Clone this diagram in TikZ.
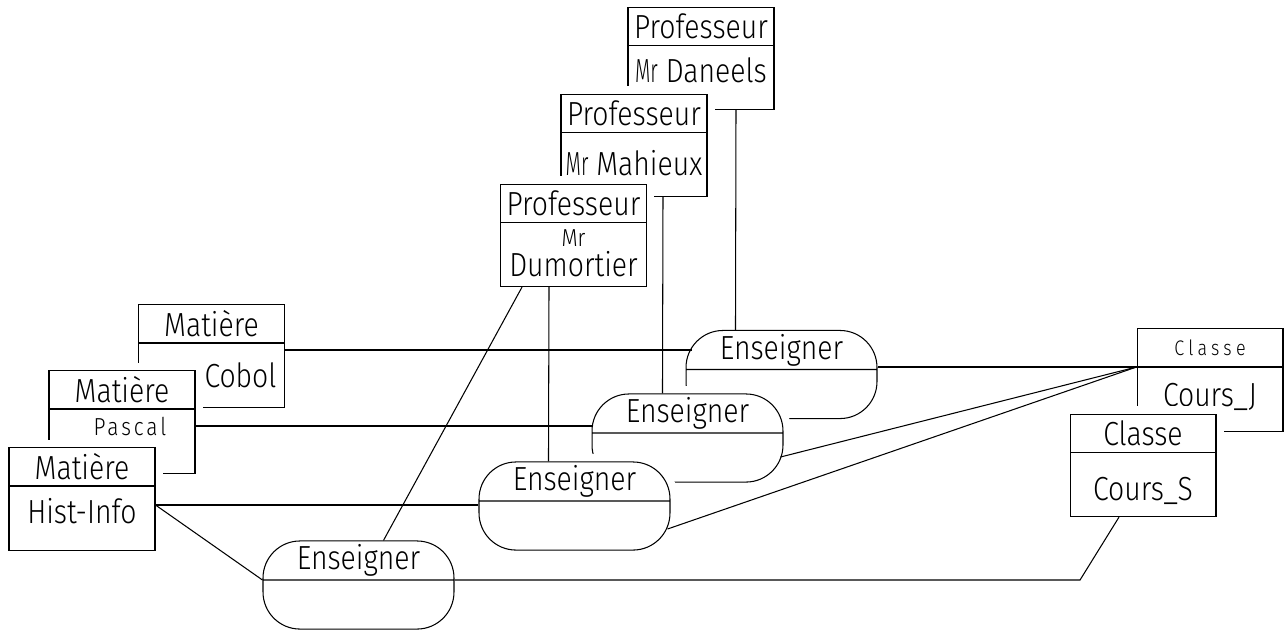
\documentclass[tikz,border=0pt]{standalone}
\usepackage{graphicx}
\usepackage{fontspec}
\setmainfont{Fira Sans Light}[FakeStretch=0.85]
\usepackage{tikz}
\usetikzlibrary{shapes.multipart}

\newcommand{\entete}[1]{\parbox[c][0.74cm][c]{2.92cm}{\centering #1}}
\newcommand{\contenu}[2][0.3cm]{\parbox[c][1.26cm][t]{2.92cm}{\centering\vspace*{#1}#2}}
\newcommand{\rel}[1]{\parbox[c][0.76cm][c]{3.82cm}{\centering #1}}
\newcommand{\relbas}{\parbox[c][0.96cm][c]{3.82cm}{\mbox{}}}
\newcommand{\petit}{\fontsize{12}{14}\selectfont}

\begin{document}
\begin{tikzpicture}[x=0.02cm, y=-0.02cm, semithick, font=\fontsize{19}{21}\selectfont,
  cache/.style={preaction={draw=white, line width=0.32cm}},
  entite/.style={rectangle split, rectangle split parts=2, draw, fill=white, inner sep=0pt, cache},
  relation/.style={entite, rounded corners=0.74cm}]
  \useasboundingbox (0,0) rectangle (1287,630);
  % professeurs
  \node [entite] (pr1) at (701,58.5) {\entete{Professeur}\nodepart{two}\contenu[0.24cm]{\scalebox{0.7}[1]{Mr} Daneels}};
  \node [entite] (pr2) at (634,145.5) {\entete{Professeur}\nodepart{two}\contenu[0.34cm]{\scalebox{0.7}[1]{Mr} Mahieux}};
  \node [entite] (pr3) at (573.5,235.5) {\entete{Professeur}\nodepart{two}\contenu[0.14cm]{{\fontsize{14}{15}\selectfont Mr}\\[-0.14cm]Dumortier}};
  % matieres
  \node [entite] (ma1) at (211.5,356) {\entete{Matière}\nodepart{two}\contenu[0.38cm]{\hspace*{1.16cm}Cobol}};
  \node [entite] (ma2) at (122,422) {\entete{Matière}\nodepart{two}\contenu[0.16cm]{\hspace*{0.32cm}{\fontsize{14}{15}\selectfont\addfontfeatures{LetterSpace=12}Pascal}}};
  \node [entite] (ma3) at (82,499) {\entete{Matière}\nodepart{two}\contenu[0.24cm]{Hist-Info}};
  % associations
  \node [relation] (en1) at (781.5,374.5) {\rel{Enseigner}\nodepart{two}\relbas};
  \node [relation] (en2) at (687.5,438) {\rel{Enseigner}\nodepart{two}\relbas};
  \node [relation] (en3) at (574.5,506) {\rel{Enseigner}\nodepart{two}\relbas};
  \node [relation] (en4) at (358.5,585) {\rel{Enseigner}\nodepart{two}\relbas};
  % classes
  \node [entite] (cl1) at (1210,380) {\entete{\petit\addfontfeatures{LetterSpace=20}Classe}\nodepart{two}\contenu[0.32cm]{Cours\_J}};
  \node [entite] (cl2) at (1143,465.5) {\entete{Classe}\nodepart{two}\contenu[0.48cm]{Cours\_S}};
  \path
    ([xshift=0.7cm]pr1.south) edge ([xshift=1cm]en1.north west)
    ([xshift=0.58cm]pr2.south) edge ([xshift=1.42cm]en2.north west)
    ([xshift=-0.49cm]pr3.south) edge ([xshift=1.4cm]en3.north west)
    ([xshift=-1.03cm]pr3.south) edge ([xshift=2.42cm]en4.north west)
    ([yshift=0.12cm]ma1.east) edge ([yshift=0.12cm,xshift=0.12cm]ma1.east -| en1.west)
    ([yshift=-0.08cm]ma2.east) edge ([yshift=-0.08cm]ma2.east -| en2.west)
    ([yshift=-0.12cm]ma3.east) edge ([yshift=-0.12cm]ma3.east -| en3.west)
    ([yshift=-0.12cm]ma3.east) edge (en4.text split west)
    (en1.east |- cl1.text split west) edge (cl1.text split west)
    ([xshift=-0.06cm,yshift=-0.38cm]en2.east) edge (cl1.text split west)
    ([xshift=-0.06cm,yshift=-0.46cm]en3.east) edge (cl1.text split west)
  ;
  \draw (en4.text split east) -- ([xshift=-1.26cm]cl2.south |- en4.text split east) -- ([xshift=-0.48cm]cl2.south);
\end{tikzpicture}
\end{document}
